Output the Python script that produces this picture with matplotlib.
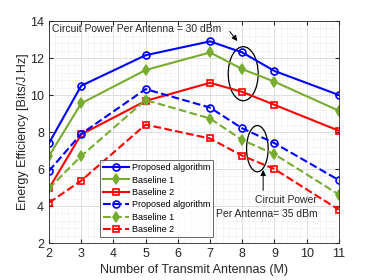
import matplotlib
matplotlib.use("Agg")
import matplotlib.pyplot as plt
from matplotlib.patches import Ellipse
from matplotlib.ticker import MultipleLocator

plt.rcParams["font.family"] = ["Liberation Sans", "DejaVu Sans"]

antennas = [2, 3, 5, 7, 8, 9, 11]

# circuit power per antenna = 30 dBm
proposed_30 = [7.4, 10.5, 12.15, 12.9, 12.3, 11.3, 10.0]
baseline1_30 = [6.7, 9.55, 11.35, 12.3, 11.4, 10.72, 9.15]
baseline2_30 = [4.95, 7.87, 9.68, 10.66, 10.17, 9.47, 8.07]

# circuit power per antenna = 35 dBm
proposed_35 = [5.9, 7.9, 10.32, 9.32, 8.2, 7.4, 5.4]
baseline1_35 = [4.95, 6.7, 9.73, 8.73, 7.57, 6.8, 4.62]
baseline2_35 = [4.18, 5.37, 8.4, 7.65, 6.72, 6.0, 3.8]

green = "#77AC30"

fig = plt.figure(figsize=(3.74, 2.8), dpi=100)
ax = fig.add_axes([0.131, 0.132, 0.775, 0.793])

ax.plot(antennas, proposed_30, "-o", color="blue", lw=1.5, ms=5, mfc="none", mew=1.2, label="Proposed algorithm")
ax.plot(antennas, baseline1_30, "-d", color=green, lw=1.5, ms=5, mfc=green, mew=1.2, label="Baseline 1")
ax.plot(antennas, baseline2_30, "-s", color="red", lw=1.5, ms=5, mfc="none", mew=1.2, label="Baseline 2")
ax.plot(antennas, proposed_35, "--o", color="blue", lw=1.5, ms=5, mfc="none", mew=1.2, label="Proposed algorithm")
ax.plot(antennas, baseline1_35, "--d", color=green, lw=1.5, ms=5, mfc=green, mew=1.2, label="Baseline 1")
ax.plot(antennas, baseline2_35, "--s", color="red", lw=1.5, ms=5, mfc="none", mew=1.2, label="Baseline 2")

ax.set_xlim(2, 11)
ax.set_ylim(2, 14)
ax.xaxis.set_major_locator(MultipleLocator(1))
ax.yaxis.set_major_locator(MultipleLocator(2))
ax.xaxis.set_minor_locator(MultipleLocator(0.2))
ax.yaxis.set_minor_locator(MultipleLocator(0.4))
ax.grid(True, which="major", color="#d9d9d9", lw=0.6)
ax.grid(True, which="minor", color="#dddddd", lw=0.5, ls=":")
ax.set_axisbelow(True)
ax.tick_params(which="both", direction="in", top=True, right=True, labelsize=9, colors="#262626", length=3)
ax.tick_params(which="minor", length=0)
for s in ax.spines.values():
    s.set_color("#262626")
    s.set_linewidth(0.6)

ax.set_xlabel("Number of Transmit Antennas (M)", fontsize=9, color="#262626")
ax.set_ylabel("Energy Efficiency [Bits/J.Hz]", fontsize=9, color="#262626")
ax.xaxis.set_label_coords(0.5, -0.095)
ax.yaxis.set_label_coords(-0.07, 0.5)

ax.add_patch(Ellipse((8.03, 11.15), 0.93, 2.92, fill=False, color="black", lw=0.9))
ax.add_patch(Ellipse((8.47, 7.1), 0.67, 2.5, fill=False, color="black", lw=0.9))

ax.text(2.1, 13.55, "Circuit Power Per Antenna = 30 dBm", fontsize=7.5, color="#262626", va="center")
ax.annotate("", xy=(7.9, 12.8), xytext=(7.56, 13.55),
            arrowprops=dict(arrowstyle="-|>", color="black", lw=0.7, mutation_scale=8))
ax.annotate("", xy=(8.65, 6.1), xytext=(8.65, 4.7),
            arrowprops=dict(arrowstyle="-|>", color="black", lw=0.7, mutation_scale=8))
ax.text(8.75, 3.95, "Circuit Power\nPer Antenna= 35 dBm", fontsize=7.5, color="#262626",
        ha="center", va="center", multialignment="right", linespacing=1.45)

leg = ax.legend(loc="lower left", bbox_to_anchor=(0.176, 0.027), fontsize=6.5, frameon=True,
                fancybox=False, edgecolor="#262626", handlelength=2.9, labelspacing=0.38,
                borderpad=0.3, handletextpad=0.3, borderaxespad=0)
leg.get_frame().set_linewidth(0.6)

fig.savefig("out.png", dpi=100)
